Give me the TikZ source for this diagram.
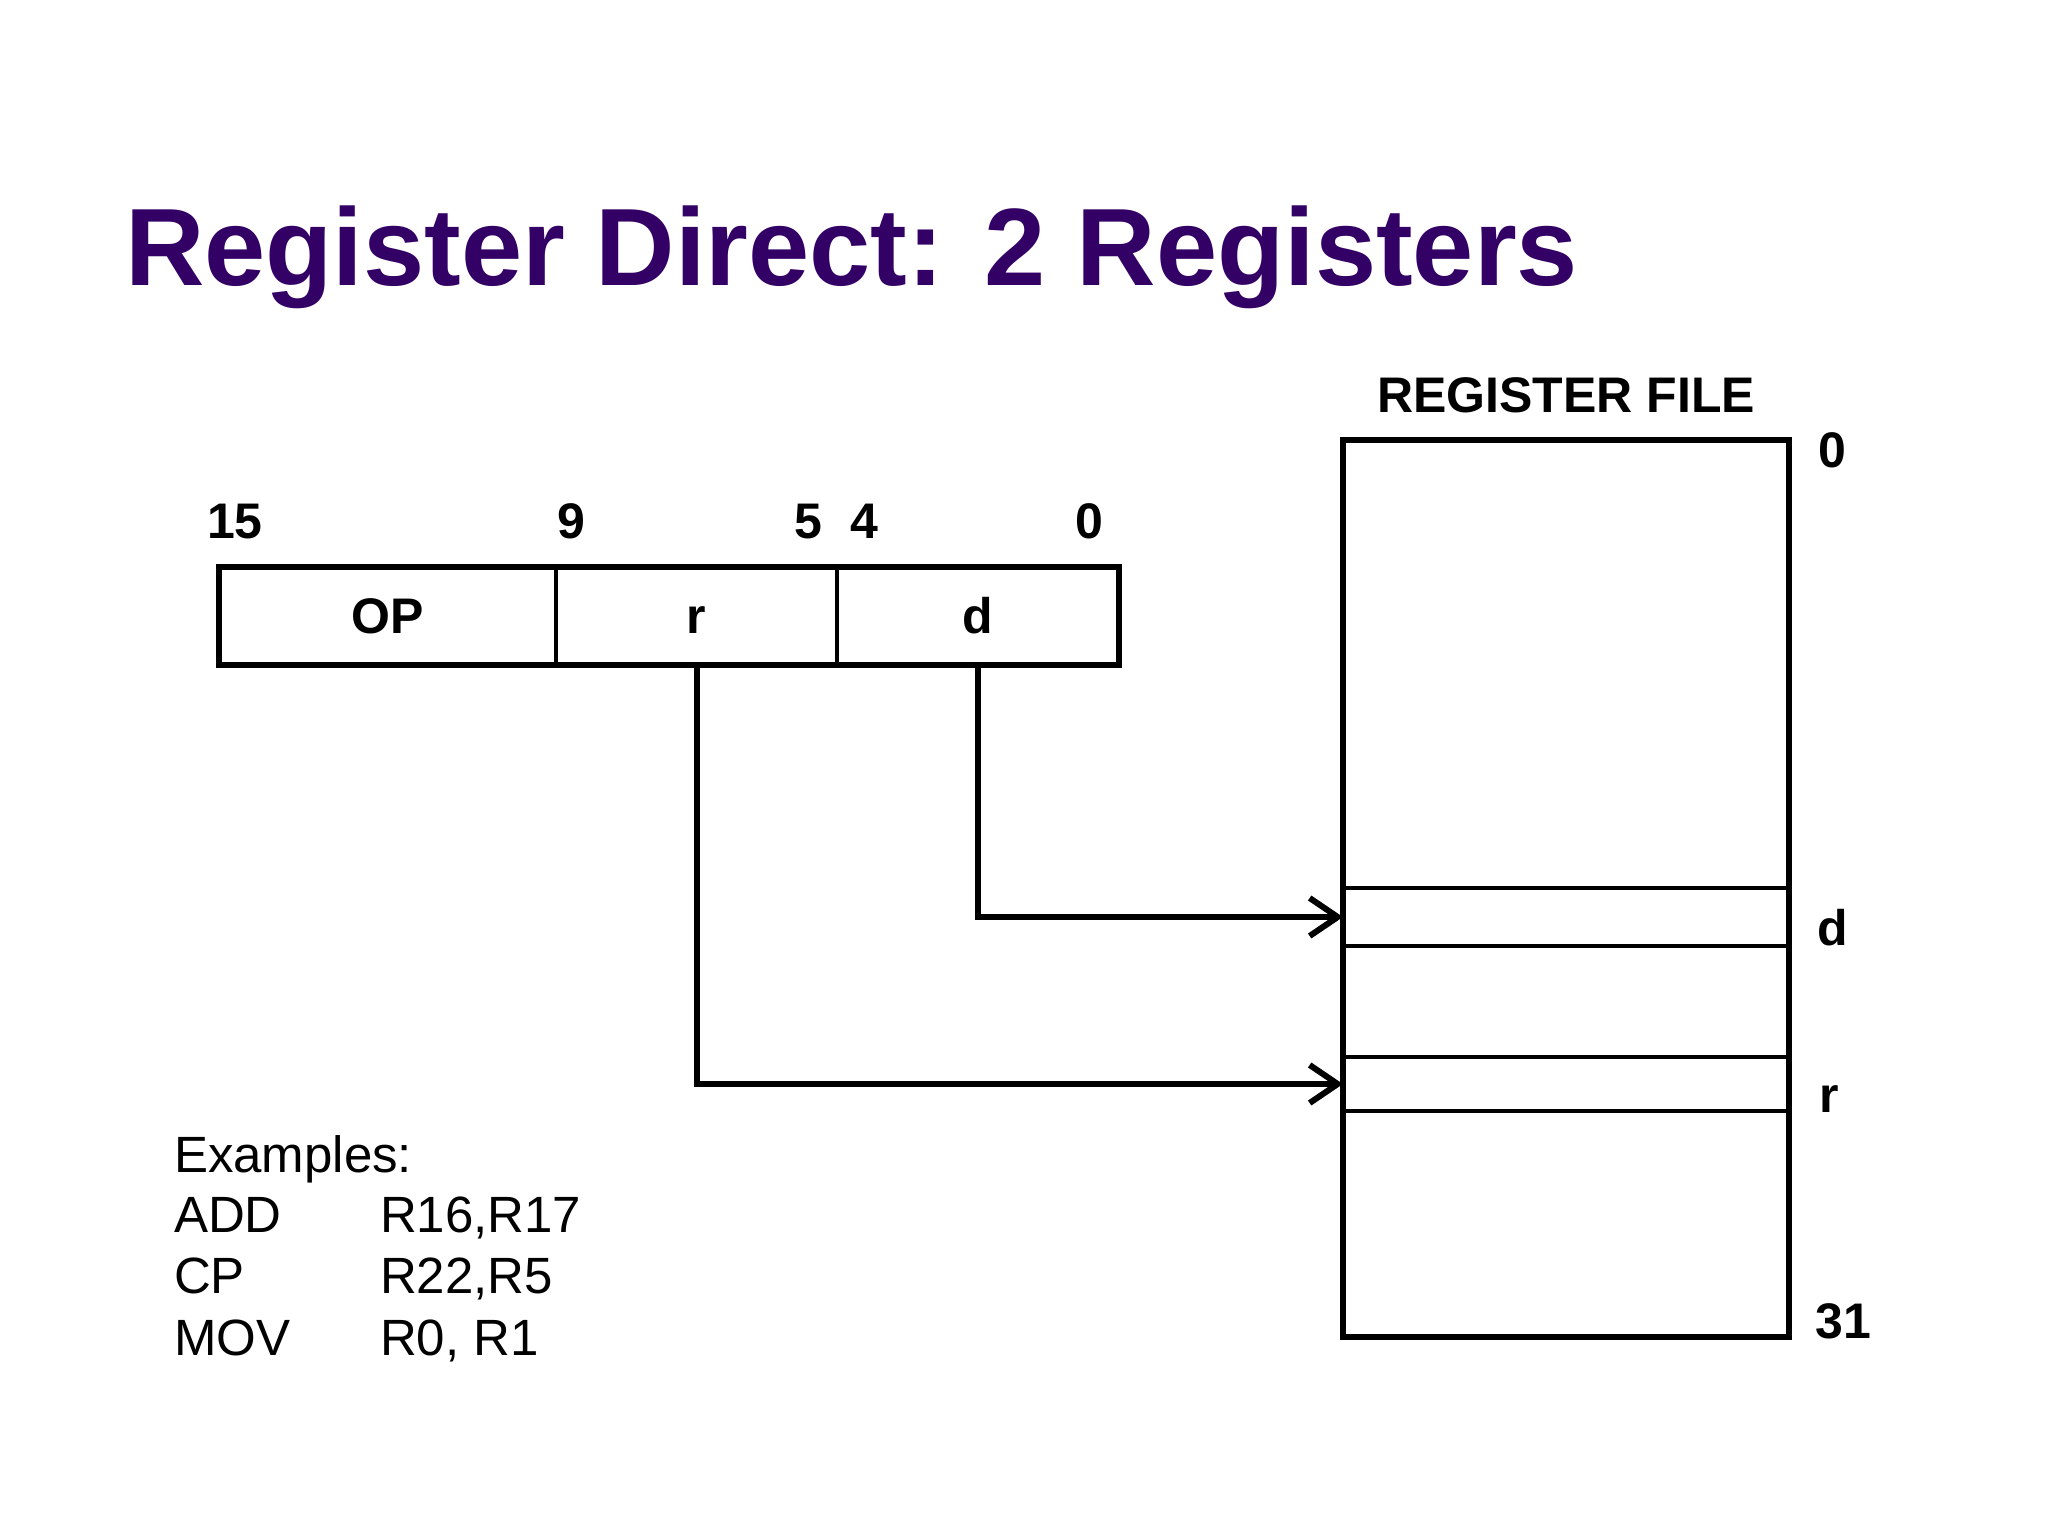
\documentclass[tikz,border=0pt]{standalone}
\usepackage{fontspec}
\setmainfont{Liberation Sans}
\usetikzlibrary{arrows.meta}
\definecolor{titlecol}{RGB}{51,0,102}
\begin{document}
\begin{tikzpicture}[x=1pt,y=-1pt,
  lbl/.style={inner sep=0pt,outer sep=0pt,anchor=base,font=\fontsize{50}{55}\selectfont\bfseries},
  field/.style={draw,line width=4.5pt,inner sep=0pt,outer sep=0pt,minimum height=98pt,
     text height=35pt,text depth=0pt,font=\fontsize{50}{55}\selectfont\bfseries},
  regrow/.style={draw,line width=4.5pt,inner sep=0pt,outer sep=0pt,minimum width=446pt},
  outer/.style={draw,line width=6.5pt},
  exs/.style={inner sep=0pt,outer sep=0pt,anchor=base west,font=\fontsize{51}{61}\selectfont},
  arr/.style={line width=6pt,-{Straight Barb[length=28pt,width=38pt]}}
]
\useasboundingbox[fill=white] (0,0) rectangle (2048,1536);

% title
\node[inner sep=0pt,anchor=base west,text=titlecol,font=\fontsize{110}{120}\selectfont\bfseries]
  (title) at (125,285) {Register Direct: 2 Registers};

% instruction word
\node[field,minimum width=337pt] (fop) at (387.5,616) {OP};
\node[field,minimum width=281pt] (fr) at (696.5,616) {r};
\node[field,minimum width=282pt] (fd) at (978,616) {d};
\draw[outer] (fop.north west) rectangle (fd.south east);

% bit numbers
\node[lbl] (b15) at (235,538) {15};
\node[lbl] (b9) at (571,538) {9};
\node[lbl] (b5) at (808,538) {5};
\node[lbl] (b4) at (864,538) {4};
\node[lbl] (b0) at (1089,538) {0};

% register file
\node[regrow,minimum height=58pt] (regd) at (1566,917) {};
\node[regrow,minimum height=54pt] (regr) at (1566,1084) {};
\node[outer,inner sep=0pt,outer sep=0pt,minimum width=446pt,minimum height=897pt] (regfile) at (1566,888.5) {};
\node[lbl] (rftitle) at (1566,412) {REGISTER FILE};
\node[lbl] (r0) at (1832,467) {0};
\node[lbl] (rd) at (1833,945) {d};
\node[lbl] (rr) at (1829,1112) {r};
\node[lbl] (r31) at (1843,1338) {31};

% connectors
\draw[arr] (fd.south) |- (regd.west);
\draw[arr] (fr.south) |- (regr.west);

% examples
\node[exs] (ex) at (174,1172) {Examples:};
\node[exs] (ex1a) at (174,1232) {ADD};
\node[exs] (ex1b) at (380,1232) {R16,R17};
\node[exs] (ex2a) at (174,1293) {CP};
\node[exs] (ex2b) at (380,1293) {R22,R5};
\node[exs] (ex3a) at (174,1355) {MOV};
\node[exs] (ex3b) at (380,1355) {R0, R1};
\end{tikzpicture}
\end{document}
